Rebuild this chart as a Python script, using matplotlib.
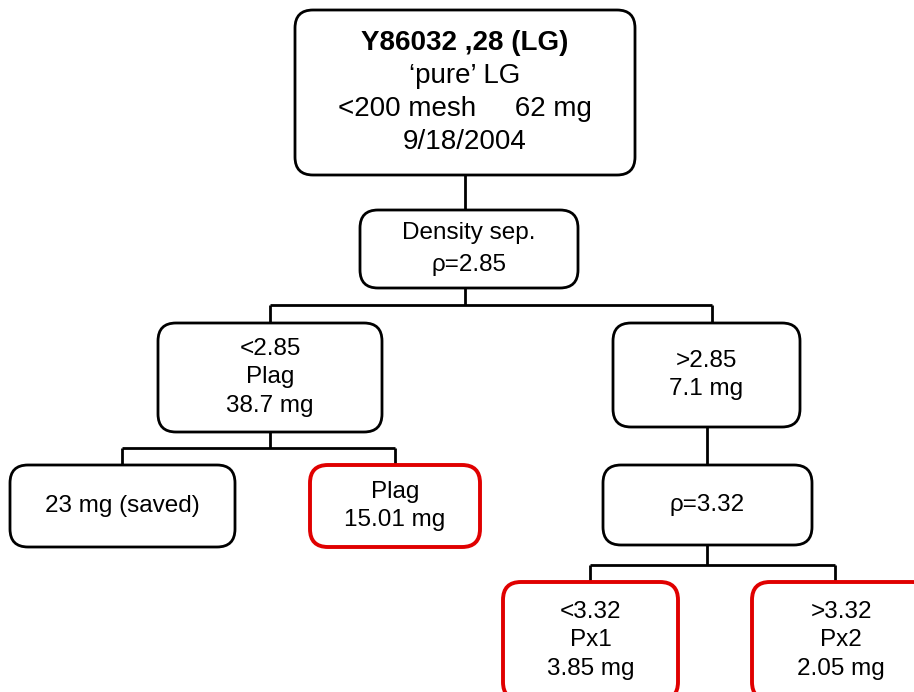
import matplotlib
matplotlib.use("Agg")
import matplotlib.pyplot as plt
from matplotlib.patches import FancyBboxPatch

plt.rcParams['font.family'] = ['Liberation Sans', 'DejaVu Sans']

# node labels
labels = {
    "top": ["Y86032 ,28 (LG)", "\u2018pure\u2019 LG", "<200 mesh     62 mg", "9/18/2004"],
    "dens": ["Density sep.", "\u03c1=2.85"],
    "lo": ["<2.85", "Plag", "38.7 mg"],
    "hi": [">2.85", "7.1 mg"],
    "saved": ["23 mg (saved)"],
    "plag": ["Plag", "15.01 mg"],
    "rho": ["\u03c1=3.32"],
    "px1": ["<3.32", "Px1", "3.85 mg"],
    "px2": [">3.32", "Px2", "2.05 mg"],
}
red_nodes = ["plag", "px1", "px2"]

# layout (pixel space): x0, y0, x1, y1, line spacing, fontsize
layout = {
    "top": (295, 10, 635, 175, 33, 20),
    "dens": (360, 210, 578, 288, 31, 17.5),
    "lo": (158, 323, 382, 432, 28.5, 17.5),
    "hi": (613, 323, 800, 427, 28.5, 17.5),
    "saved": (10, 465, 235, 547, 28, 17.5),
    "plag": (310, 465, 480, 547, 28, 17.5),
    "rho": (603, 465, 812, 545, 28, 17.5),
    "px1": (503, 582, 678, 700, 28.5, 17.5),
    "px2": (752, 582, 930, 700, 28.5, 17.5),
}

fig = plt.figure(figsize=(9.14, 6.92), dpi=100)
ax = fig.add_axes([0, 0, 1, 1])
ax.set_xlim(0, 914)
ax.set_ylim(692, 0)
ax.axis("off")

lw = 2.0
def line(xs, ys):
    ax.plot(xs, ys, color="black", lw=lw, solid_capstyle="butt")

line([465, 465], [175, 210])
line([465, 465], [288, 305]); line([270, 712], [305, 305])
line([270, 270], [305, 323]); line([712, 712], [305, 323])
line([270, 270], [432, 448]); line([122, 395], [448, 448])
line([122, 122], [448, 465]); line([395, 395], [448, 465])
line([707, 707], [427, 465])
line([707, 707], [545, 565]); line([590, 835], [565, 565])
line([590, 590], [565, 582]); line([835, 835], [565, 582])

for key, lines in labels.items():
    x0, y0, x1, y1, sp, fs = layout[key]
    red = key in red_nodes
    box = FancyBboxPatch((x0, y0), x1 - x0, y1 - y0,
                         boxstyle="round,pad=0,rounding_size=18",
                         fc="white", ec="#e00000" if red else "black",
                         lw=2.8 if red else 2.0, zorder=2)
    ax.add_patch(box)
    cx = (x0 + x1) / 2
    if key in ("px1", "px2"):
        cy = (582 + 692) / 2 + 3
    else:
        cy = (y0 + y1) / 2
    n = len(lines)
    for i, t in enumerate(lines):
        y = cy + (i - (n - 1) / 2) * sp
        ax.text(cx, y, t, ha="center", va="center", fontsize=fs,
                fontweight="bold" if (key == "top" and i == 0) else "normal", zorder=3)

fig.savefig("out.png", dpi=100)
